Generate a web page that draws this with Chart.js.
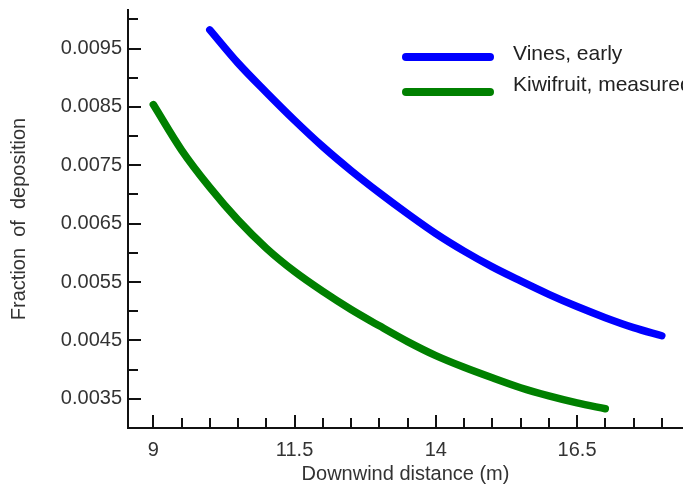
<!DOCTYPE html>
<html>
<head>
<meta charset="utf-8">
<script src="https://cdn.jsdelivr.net/npm/chart.js@4.4.1/dist/chart.umd.min.js"></script>
<style>
    html, body { margin: 0; padding: 0; background: #fff; }
    #wrap { width: 683px; height: 484px; }
</style>
</head>
<body>
<div id="wrap"><canvas id="depositionChart" width="683" height="484"></canvas></div>
<script>
// Series data
const vinesDistance = [10, 10.5, 11, 11.5, 12, 12.5, 13, 13.5, 14, 14.5, 15, 15.5, 16, 16.5, 17, 17.5, 18];
const vinesFraction = [0.00982, 0.00925, 0.00875, 0.00827, 0.00782, 0.00741, 0.00703, 0.00667, 0.00633,
    0.00603, 0.00576, 0.00552, 0.00529, 0.00508, 0.00489, 0.00472, 0.00458];

const kiwiDistance = [9, 9.5, 10, 10.5, 11, 11.5, 12, 12.5, 13, 13.5, 14, 14.5, 15, 15.5, 16, 16.5, 17];
const kiwiFraction = [0.00854, 0.00776, 0.00712, 0.00656, 0.00608, 0.00568, 0.00534, 0.00503, 0.00475,
    0.00448, 0.00424, 0.00404, 0.00386, 0.00369, 0.00355, 0.00343, 0.00333];

const seriesLabels = ['Vines, early', 'Kiwifruit, measured'];

// Tick marks: every 0.5 m / 0.0005, labels only on the major ones
const xTickMarks = [9, 9.5, 10, 10.5, 11, 11.5, 12, 12.5, 13, 13.5, 14, 14.5, 15, 15.5, 16, 16.5, 17, 17.5, 18];
const xTickLabels = [9, 11.5, 14, 16.5];
const yTickMarks = [0.0035, 0.004, 0.0045, 0.005, 0.0055, 0.006, 0.0065, 0.007, 0.0075, 0.008, 0.0085, 0.009, 0.0095, 0.01];
const yTickLabels = [0.0035, 0.0045, 0.0055, 0.0065, 0.0075, 0.0085, 0.0095];

const FONT = "'Liberation Sans', Arial, sans-serif";

function toPoints(xs, ys) {
    return xs.map((x, i) => ({ x: x, y: ys[i] }));
}

function isLabelled(list, v, eps) {
    return list.some(t => Math.abs(t - v) < eps);
}

// Inward tick marks, longer where a label sits
const inwardTicks = {
    id: 'inwardTicks',
    afterDraw(chart) {
        const ctx = chart.ctx;
        const area = chart.chartArea;
        const xs = chart.scales.x;
        const ys = chart.scales.y;
        ctx.save();
        ctx.strokeStyle = '#111';
        ctx.lineWidth = 2;
        xTickMarks.forEach(v => {
            const px = Math.round(xs.getPixelForValue(v));
            const len = isLabelled(xTickLabels, v, 1e-6) ? 13 : 10;
            ctx.beginPath();
            ctx.moveTo(px, area.bottom);
            ctx.lineTo(px, area.bottom - len);
            ctx.stroke();
        });
        yTickMarks.forEach(v => {
            const py = Math.round(ys.getPixelForValue(v));
            const len = isLabelled(yTickLabels, v, 1e-8) ? 13 : 10;
            ctx.beginPath();
            ctx.moveTo(area.left, py);
            ctx.lineTo(area.left + len, py);
            ctx.stroke();
        });
        ctx.restore();
    }
};

// Legend drawn inside the plot, top right
const insideLegend = {
    id: 'insideLegend',
    afterDraw(chart) {
        const ctx = chart.ctx;
        ctx.save();
        ctx.font = '21px ' + FONT;
        ctx.textBaseline = 'middle';
        chart.data.datasets.forEach((ds, i) => {
            const y = 57 + i * 35;
            ctx.strokeStyle = ds.borderColor;
            ctx.lineWidth = 8;
            ctx.lineCap = 'round';
            ctx.beginPath();
            ctx.moveTo(406, y);
            ctx.lineTo(490, y);
            ctx.stroke();
            ctx.fillStyle = '#222';
            ctx.fillText(ds.label, 513, 54 + i * 31);
        });
        ctx.restore();
    }
};

const chart = new Chart(document.getElementById('depositionChart'), {
    type: 'line',
    data: {
        datasets: [{
            label: seriesLabels[0],
            data: toPoints(vinesDistance, vinesFraction),
            borderColor: '#0000ff',
            borderWidth: 7.5,
            borderCapStyle: 'round',
            pointRadius: 0,
            cubicInterpolationMode: 'monotone',
            fill: false
        }, {
            label: seriesLabels[1],
            data: toPoints(kiwiDistance, kiwiFraction),
            borderColor: '#008000',
            borderWidth: 7.5,
            borderCapStyle: 'round',
            pointRadius: 0,
            cubicInterpolationMode: 'monotone',
            fill: false
        }]
    },
    options: {
        responsive: false,
        animation: false,
        layout: { padding: { top: 10, right: 0, bottom: 0, left: 0 } },
        plugins: {
            legend: { display: false },
            title: { display: false },
            tooltip: { enabled: false }
        },
        scales: {
            x: {
                type: 'linear',
                min: 8.552,
                max: 18.375,
                grid: { display: false, drawTicks: false },
                border: { display: true, color: '#111', width: 2 },
                ticks: {
                    autoSkip: false,
                    maxRotation: 0,
                    padding: 10,
                    color: '#333',
                    font: { family: FONT, size: 20 },
                    callback: v => isLabelled(xTickLabels, v, 1e-6) ? String(v) : ''
                },
                title: {
                    display: true,
                    text: 'Downwind distance (m)',
                    color: '#333',
                    font: { family: FONT, size: 20, lineHeight: 1 },
                    padding: { top: 0, bottom: 0 }
                },
                afterBuildTicks: s => { s.ticks = xTickMarks.map(v => ({ value: v })); },
                afterFit: s => {
                    s.height = 56;
                    s.paddingLeft = 0;
                    s.paddingRight = 0;
                }
            },
            y: {
                type: 'linear',
                min: 0.003,
                max: 0.01016,
                grid: { display: false, drawTicks: false },
                border: { display: true, color: '#111', width: 2 },
                ticks: {
                    autoSkip: false,
                    padding: 6,
                    color: '#333',
                    font: { family: FONT, size: 20 },
                    callback: v => isLabelled(yTickLabels, v, 1e-8) ? v.toFixed(4) : ''
                },
                title: {
                    display: true,
                    text: 'Fraction  of  deposition',
                    color: '#333',
                    font: { family: FONT, size: 20, lineHeight: 1.2 },
                    padding: { top: 7, bottom: 0 }
                },
                afterBuildTicks: s => { s.ticks = yTickMarks.map(v => ({ value: v })); },
                afterFit: s => {
                    s.width = 128;
                    s.paddingTop = 0;
                    s.paddingBottom = 0;
                }
            }
        }
    },
    plugins: [inwardTicks, insideLegend]
});
</script>
</body>
</html>
